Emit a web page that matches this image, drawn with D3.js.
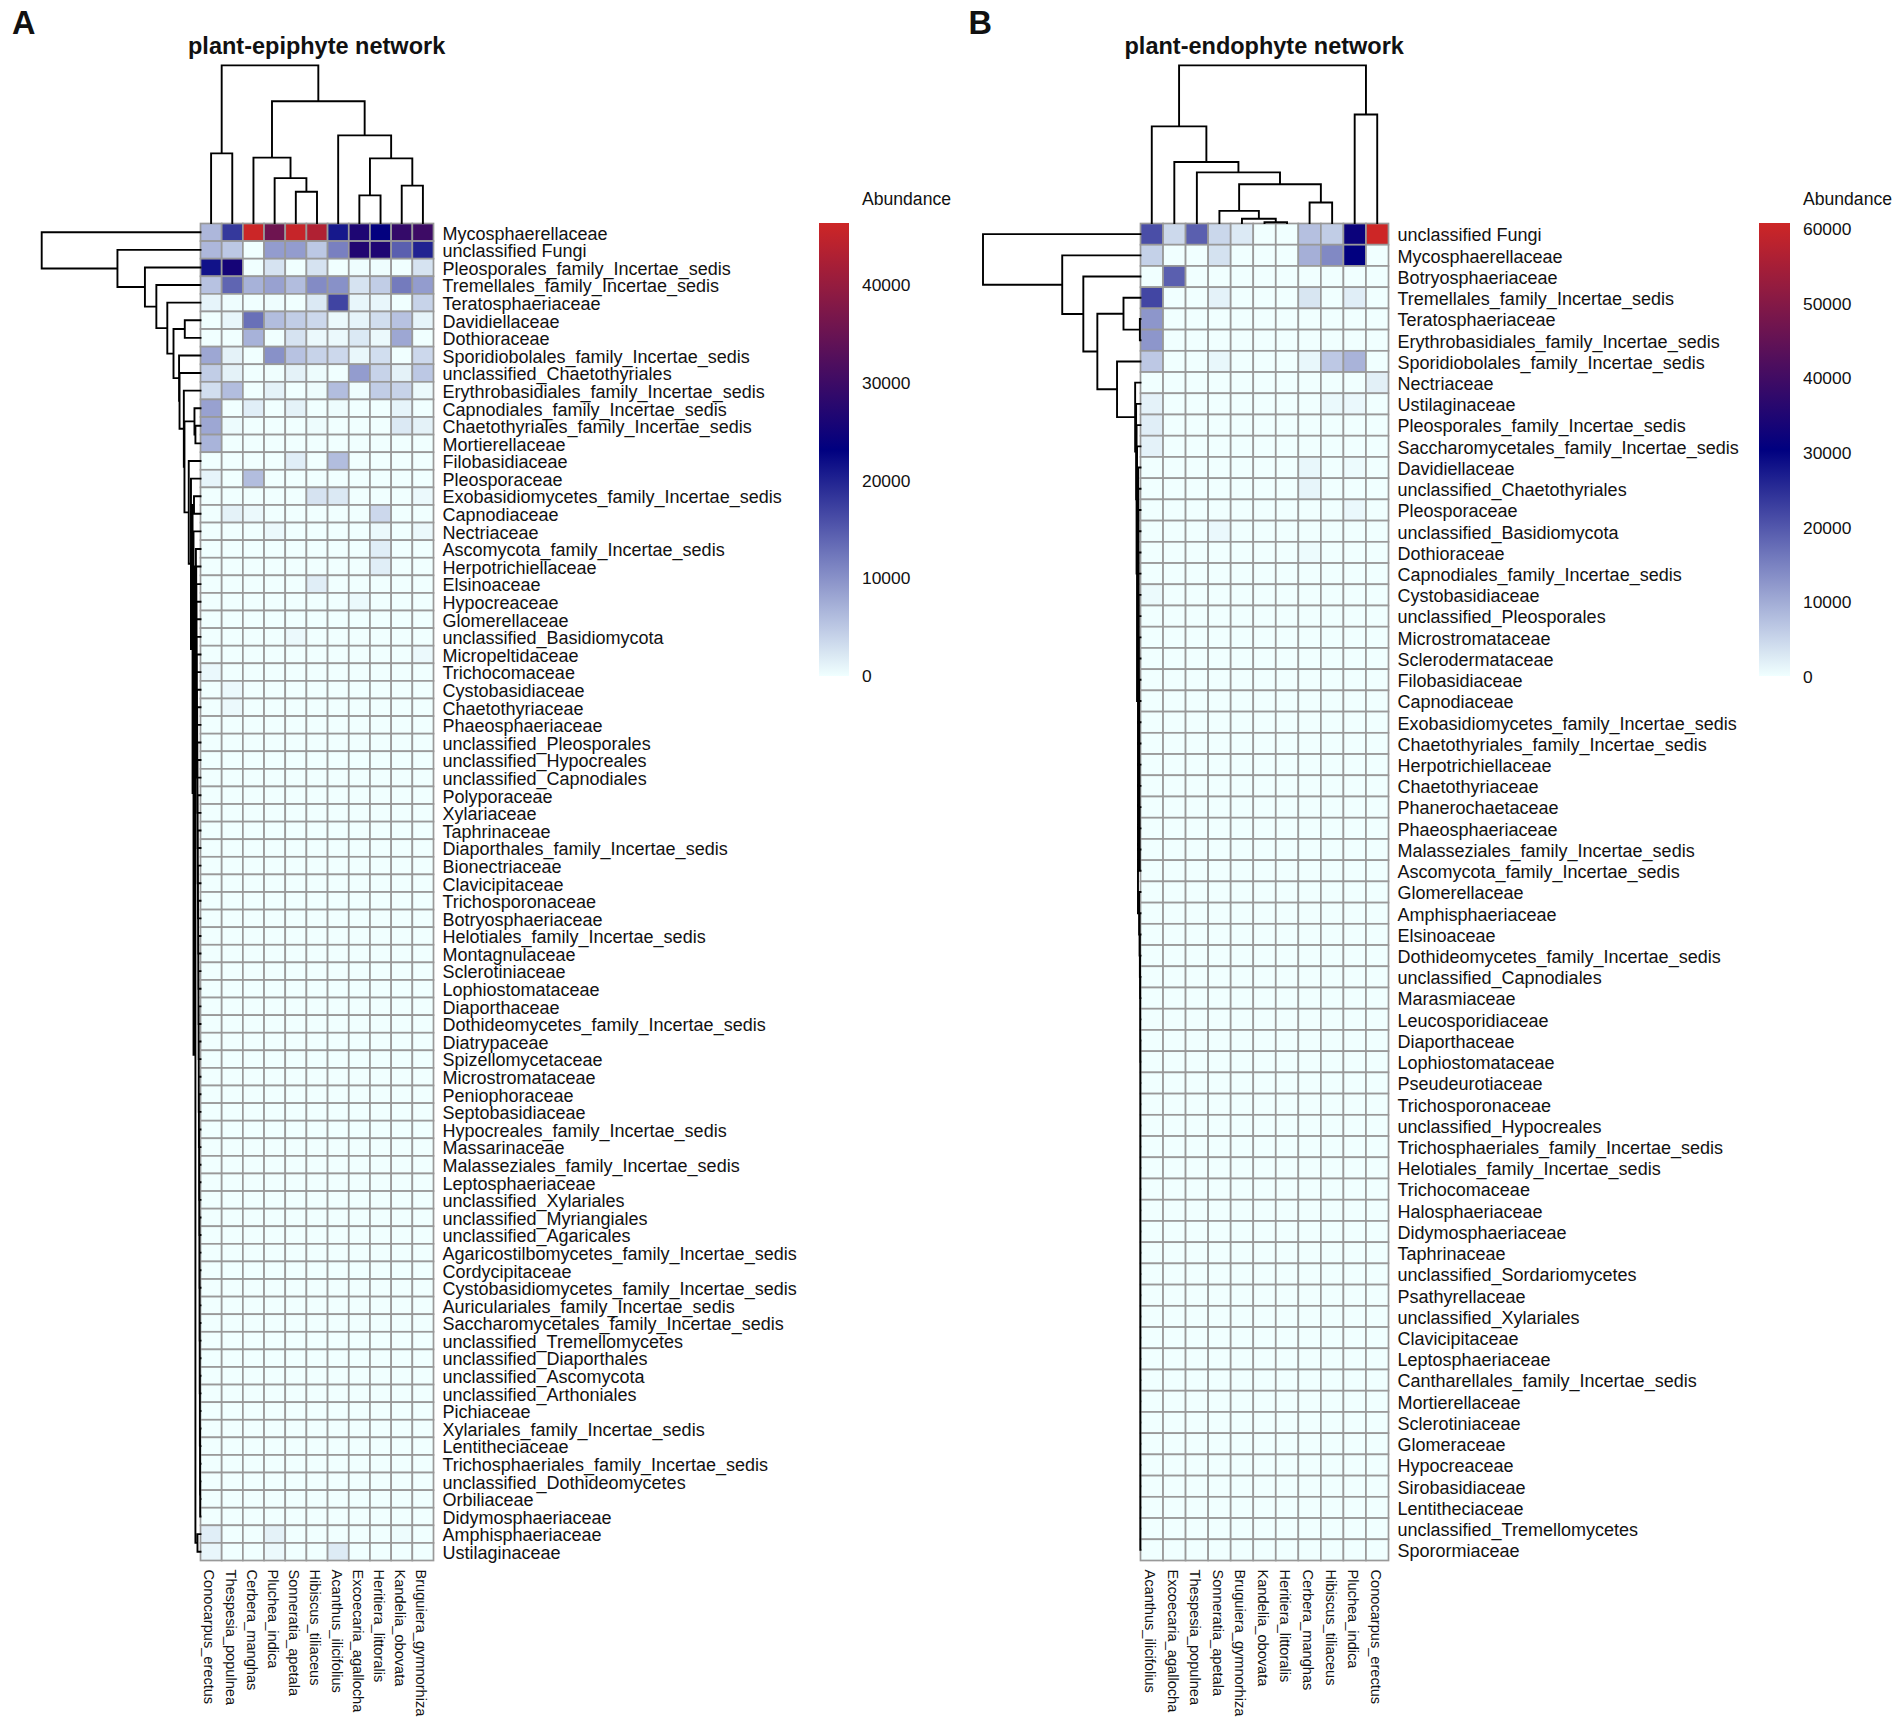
<!DOCTYPE html>
<html>
<head>
<meta charset="utf-8">
<script src="https://cdn.jsdelivr.net/npm/d3@7"></script>
<style>
html,body{margin:0;padding:0;background:#fff}
svg{display:block}
text{font-family:"Liberation Sans",Arial,sans-serif;fill:#111}
</style>
</head>
<body>
<svg id="chart" width="1904" height="1725"></svg>
<script>
const colsA=["Conocarpus_erectus","Thespesia_populnea","Cerbera_manghas","Pluchea_indica","Sonneratia_apetala","Hibiscus_tiliaceus","Acanthus_ilicifolius","Excoecaria_agallocha","Heritiera_littoralis","Kandelia_obovata","Bruguiera_gymnorhiza"];
const rowsA=["Mycosphaerellaceae","unclassified Fungi","Pleosporales_family_Incertae_sedis","Tremellales_family_Incertae_sedis","Teratosphaeriaceae","Davidiellaceae","Dothioraceae","Sporidiobolales_family_Incertae_sedis","unclassified_Chaetothyriales","Erythrobasidiales_family_Incertae_sedis","Capnodiales_family_Incertae_sedis","Chaetothyriales_family_Incertae_sedis","Mortierellaceae","Filobasidiaceae","Pleosporaceae","Exobasidiomycetes_family_Incertae_sedis","Capnodiaceae","Nectriaceae","Ascomycota_family_Incertae_sedis","Herpotrichiellaceae","Elsinoaceae","Hypocreaceae","Glomerellaceae","unclassified_Basidiomycota","Micropeltidaceae","Trichocomaceae","Cystobasidiaceae","Chaetothyriaceae","Phaeosphaeriaceae","unclassified_Pleosporales","unclassified_Hypocreales","unclassified_Capnodiales","Polyporaceae","Xylariaceae","Taphrinaceae","Diaporthales_family_Incertae_sedis","Bionectriaceae","Clavicipitaceae","Trichosporonaceae","Botryosphaeriaceae","Helotiales_family_Incertae_sedis","Montagnulaceae","Sclerotiniaceae","Lophiostomataceae","Diaporthaceae","Dothideomycetes_family_Incertae_sedis","Diatrypaceae","Spizellomycetaceae","Microstromataceae","Peniophoraceae","Septobasidiaceae","Hypocreales_family_Incertae_sedis","Massarinaceae","Malasseziales_family_Incertae_sedis","Leptosphaeriaceae","unclassified_Xylariales","unclassified_Myriangiales","unclassified_Agaricales","Agaricostilbomycetes_family_Incertae_sedis","Cordycipitaceae","Cystobasidiomycetes_family_Incertae_sedis","Auriculariales_family_Incertae_sedis","Saccharomycetales_family_Incertae_sedis","unclassified_Tremellomycetes","unclassified_Diaporthales","unclassified_Ascomycota","unclassified_Arthoniales","Pichiaceae","Xylariales_family_Incertae_sedis","Lentitheciaceae","Trichosphaeriales_family_Incertae_sedis","unclassified_Dothideomycetes","Orbiliaceae","Didymosphaeriaceae","Amphisphaeriaceae","Ustilaginaceae"];
const valuesA=[
[6500,18000,46000,35600,45500,43000,21000,26500,23500,29000,30000],
[6500,5000,0,9000,9000,5000,11500,27000,26500,14500,20000],
[21500,25500,0,2500,0,2500,0,200,200,0,2500],
[5500,14000,7000,8500,6000,10500,10000,2500,4500,12000,9000],
[1000,200,0,200,0,2000,17000,800,800,0,4000],
[0,800,13000,6000,4500,3500,500,1000,3000,5500,1000],
[0,0,7000,0,2500,500,500,2000,500,8000,0],
[8000,1200,0,10000,5500,4000,3500,700,3000,0,3500],
[4500,1200,0,100,1200,300,0,9000,4000,1200,5000],
[3000,6000,0,1200,0,300,6000,200,4500,4000,500],
[8500,0,1500,0,1200,0,300,0,0,1000,0],
[8000,400,0,0,0,300,0,0,0,2000,1200],
[6800,0,0,0,0,0,0,0,0,0,0],
[0,0,0,0,1500,0,6000,0,0,0,0],
[1000,0,6000,0,0,0,0,0,0,0,0],
[0,0,0,0,0,2500,2000,0,0,0,500],
[0,1200,500,0,0,0,0,0,3500,0,0],
[0,0,0,500,0,0,0,0,500,0,500],
[0,0,0,0,0,0,0,0,1500,0,0],
[0,0,0,0,0,0,0,0,1500,0,0],
[0,0,0,0,0,1500,0,0,0,0,0],
[0,0,0,0,0,0,0,500,0,0,0],
[0,0,0,0,0,0,0,0,0,0,0],
[0,0,0,0,500,0,0,0,0,0,0],
[0,0,0,0,0,0,0,0,0,0,500],
[600,0,0,0,0,0,0,0,0,0,0],
[0,500,0,0,0,0,0,0,0,0,0],
[0,500,0,0,0,0,0,0,0,0,0],
[0,0,0,0,0,0,0,0,0,0,0],[0,0,0,0,0,0,0,0,0,0,0],[0,0,0,0,0,0,0,0,0,0,0],[0,0,0,0,0,0,0,0,0,0,0],
[0,0,0,0,0,0,0,0,0,0,0],[0,0,0,0,0,0,0,0,0,0,0],[0,0,0,0,0,0,0,0,0,0,0],[0,0,0,0,0,0,0,0,0,0,0],
[0,0,0,0,0,0,0,0,0,0,0],[0,0,0,0,0,0,0,0,0,0,0],[0,0,0,0,0,0,0,0,0,0,0],[0,0,0,0,0,0,0,0,0,0,0],
[0,0,0,0,0,0,0,0,0,0,0],[0,0,0,0,0,0,0,0,0,0,0],[0,0,0,0,0,0,0,0,0,0,0],[0,0,0,0,0,0,0,0,0,0,0],
[0,0,0,0,0,0,0,0,0,0,0],[0,0,0,0,0,0,0,0,0,0,0],[0,0,0,0,0,0,0,0,0,0,0],[0,0,0,0,0,0,0,0,0,0,0],
[0,0,0,0,0,0,0,0,0,0,0],[0,0,0,0,0,0,0,0,0,0,0],[0,0,0,0,0,0,0,0,0,0,0],[0,0,0,0,0,0,0,0,0,0,0],
[0,0,0,0,0,0,0,0,0,0,0],[0,0,0,0,0,0,0,0,0,0,0],[0,0,0,0,0,0,0,0,0,0,0],[0,0,0,0,0,0,0,0,0,0,0],
[0,0,0,0,0,0,0,0,0,0,0],[0,0,0,0,0,0,0,0,0,0,0],[0,0,0,0,0,0,0,0,0,0,0],[0,0,0,0,0,0,0,0,0,0,0],
[0,0,0,0,0,0,0,0,0,0,0],[0,0,0,0,0,0,0,0,0,0,0],[0,0,0,0,0,0,0,0,0,0,0],[0,0,0,0,0,0,0,0,0,0,0],
[0,0,0,0,0,0,0,0,0,0,0],[0,0,0,0,0,0,0,0,0,0,0],[0,0,0,0,0,0,0,0,0,0,0],[0,0,0,0,0,0,0,0,0,0,0],
[0,0,0,0,0,0,0,0,0,0,0],[0,0,0,0,0,0,0,0,0,0,0],[0,0,0,0,0,0,0,0,0,0,0],[0,0,0,0,0,0,0,0,0,0,0],
[0,0,0,0,0,0,0,0,0,0,0],[0,0,0,0,0,0,0,0,0,0,0],
[1500,0,0,1200,0,0,0,0,0,300,0],
[800,0,0,500,0,0,1800,0,0,0,0]
];
const colsB=["Acanthus_ilicifolius","Excoecaria_agallocha","Thespesia_populnea","Sonneratia_apetala","Bruguiera_gymnorhiza","Kandelia_obovata","Heritiera_littoralis","Cerbera_manghas","Hibiscus_tiliaceus","Pluchea_indica","Conocarpus_erectus"];
const rowsB=["unclassified Fungi","Mycosphaerellaceae","Botryosphaeriaceae","Tremellales_family_Incertae_sedis","Teratosphaeriaceae","Erythrobasidiales_family_Incertae_sedis","Sporidiobolales_family_Incertae_sedis","Nectriaceae","Ustilaginaceae","Pleosporales_family_Incertae_sedis","Saccharomycetales_family_Incertae_sedis","Davidiellaceae","unclassified_Chaetothyriales","Pleosporaceae","unclassified_Basidiomycota","Dothioraceae","Capnodiales_family_Incertae_sedis","Cystobasidiaceae","unclassified_Pleosporales","Microstromataceae","Sclerodermataceae","Filobasidiaceae","Capnodiaceae","Exobasidiomycetes_family_Incertae_sedis","Chaetothyriales_family_Incertae_sedis","Herpotrichiellaceae","Chaetothyriaceae","Phanerochaetaceae","Phaeosphaeriaceae","Malasseziales_family_Incertae_sedis","Ascomycota_family_Incertae_sedis","Glomerellaceae","Amphisphaeriaceae","Elsinoaceae","Dothideomycetes_family_Incertae_sedis","unclassified_Capnodiales","Marasmiaceae","Leucosporidiaceae","Diaporthaceae","Lophiostomataceae","Pseudeurotiaceae","Trichosporonaceae","unclassified_Hypocreales","Trichosphaeriales_family_Incertae_sedis","Helotiales_family_Incertae_sedis","Trichocomaceae","Halosphaeriaceae","Didymosphaeriaceae","Taphrinaceae","unclassified_Sordariomycetes","Psathyrellaceae","unclassified_Xylariales","Clavicipitaceae","Leptosphaeriaceae","Cantharellales_family_Incertae_sedis","Mortierellaceae","Sclerotiniaceae","Glomeraceae","Hypocreaceae","Sirobasidiaceae","Lentitheciaceae","unclassified_Tremellomycetes","Sporormiaceae"];
const valuesB=[
[21000,4500,19000,4800,2500,0,0,7500,6000,32000,60600],
[5500,0,0,3500,0,0,0,9500,14000,30500,0],
[0,19000,0,0,0,0,0,0,0,0,0],
[22000,0,0,1500,0,0,0,3000,0,2000,0],
[12500,0,0,0,0,0,0,0,0,0,0],
[12500,0,0,0,0,0,0,0,0,0,0],
[6500,0,0,1000,0,0,0,1000,6500,9000,0],
[0,0,0,0,0,0,0,0,0,0,1800],
[1500,0,0,0,0,0,0,0,700,800,0],
[2000,0,0,0,0,0,0,0,0,0,0],
[1500,0,0,0,0,0,0,0,0,0,0],
[0,0,0,0,0,0,0,1000,0,500,0],
[0,0,0,0,0,0,0,1200,0,0,0],
[0,0,0,0,0,0,0,0,0,800,0],
[0,0,0,800,0,0,0,0,0,0,0],
[0,0,0,0,0,0,0,500,0,0,0],
[0,0,0,0,0,0,0,0,0,0,0],
[600,0,0,0,0,0,0,0,0,0,0],
[0,0,0,0,0,0,0,0,0,0,0],[0,0,0,0,0,0,0,0,0,0,0],[0,0,0,0,0,0,0,0,0,0,0],[0,0,0,0,0,0,0,0,0,0,0],
[0,0,0,0,0,0,0,0,0,0,0],[0,0,0,0,0,0,0,0,0,0,0],[0,0,0,0,0,0,0,0,0,0,0],[0,0,0,0,0,0,0,0,0,0,0],
[0,0,0,0,0,0,0,0,0,0,0],[0,0,0,0,0,0,0,0,0,0,0],[0,0,0,0,0,0,0,0,0,0,0],[0,0,0,0,0,0,0,0,0,0,0],
[0,0,0,0,0,0,0,0,0,0,0],[0,0,0,0,0,0,0,0,0,0,0],[0,0,0,0,0,0,0,0,0,0,0],[0,0,0,0,0,0,0,0,0,0,0],
[0,0,0,0,0,0,0,0,0,0,0],[0,0,0,0,0,0,0,0,0,0,0],[0,0,0,0,0,0,0,0,0,0,0],[0,0,0,0,0,0,0,0,0,0,0],
[0,0,0,0,0,0,0,0,0,0,0],[0,0,0,0,0,0,0,0,0,0,0],[0,0,0,0,0,0,0,0,0,0,0],[0,0,0,0,0,0,0,0,0,0,0],
[0,0,0,0,0,0,0,0,0,0,0],[0,0,0,0,0,0,0,0,0,0,0],[0,0,0,0,0,0,0,0,0,0,0],[0,0,0,0,0,0,0,0,0,0,0],
[0,0,0,0,0,0,0,0,0,0,0],[0,0,0,0,0,0,0,0,0,0,0],[0,0,0,0,0,0,0,0,0,0,0],[0,0,0,0,0,0,0,0,0,0,0],
[0,0,0,0,0,0,0,0,0,0,0],[0,0,0,0,0,0,0,0,0,0,0],[0,0,0,0,0,0,0,0,0,0,0],[0,0,0,0,0,0,0,0,0,0,0],
[0,0,0,0,0,0,0,0,0,0,0],[0,0,0,0,0,0,0,0,0,0,0],[0,0,0,0,0,0,0,0,0,0,0],[0,0,0,0,0,0,0,0,0,0,0],
[0,0,0,0,0,0,0,0,0,0,0],[0,0,0,0,0,0,0,0,0,0,0],[0,0,0,0,0,0,0,0,0,0,0],[0,0,0,0,0,0,0,0,0,0,0],
[0,0,0,0,0,0,0,0,0,0,0]
];
const ticksA=[0,10000,20000,30000,40000];
const ticksB=[0,10000,20000,30000,40000,50000,60000];
const maxA=46270, maxB=60640;
const rampColors=["#F0FFFF","#000080","#CD2626"];

// merge trees: [height, childA, childB]; a plain number is a leaf index
const colTreeA=[100,[44.2,0,1],[77.3,[41.5,2,[28.5,3,[19.8,4,5]]],[55.6,6,[41,[17.5,7,8],[23.7,9,10]]]]];
const colTreeB=[100,[61.3,0,[38.7,1,[32.1,2,[24.6,[7.7,3,[2.7,4,[0.5,5,6]]],[13,7,8]]]]],[68.8,9,10]];
const chainHeightsA=[2.9,2.7,2.6,2.5,2.5,2.4,2.3,2.3,2.2,2.1,2.1,2.0,1.9,1.9,1.8,1.8,1.7,1.7,1.6,1.6,1.5,1.5,1.4,1.4,1.3,1.3,1.2,1.2,1.1,1.1,1.1,1.0,1.0,0.9,0.9,0.9,0.8,0.8,0.7,0.7,0.7,0.6,0.6,0.6,0.5,0.5,0.5,0.4,0.4,0.4,0.3,0.3,0.3,0.2,0.2];
const chainHeightsB1=[1.5,1.4,1.3,1.3,1.2,1.2,1.1,1.1,1.0,1.0,0.9,0.9,0.8,0.8,0.7,0.7,0.6,0.6,0.5];
const chainHeightsB2=[0.9,0.6,0.4,0.3,0.2,0.2,0.2,0.1,0.1,0.1,0.1,0.1,0.1,0.1,0.1,0.1,0.1,0.1,0.1,0.1,0.1,0.1,0.1,0.1,0.1,0.1,0.1,0.1,0.1,0.1,0.1];

function chain(first,heights){
  let node=first+heights.length;
  for(let i=heights.length-1;i>=0;i--) node=[heights[i],first+i,node];
  return node;
}
const tailA=[3.2,chain(18,chainHeightsA),[1.9,74,75]];
const rowTreeA=[100,0,[52.3,1,[35,2,[27.8,3,[20.9,4,[17,[9.9,5,6],[13.5,7,[13.2,8,[10.5,9,[10.1,[3.8,10,[3.2,11,12]],[7.4,13,[6,14,[5,[4.1,15,16],[4.4,17,tailA]]]]]]]]]]]]]];
const tailB=[1.6,chain(11,chainHeightsB1),chain(31,chainHeightsB2)];
const rowTreeB=[100,0,[49.7,1,[36.3,2,[27.4,[10.8,3,[0.4,4,5]],[14.9,6,[3.4,7,[2.8,8,[2.5,9,[2.2,10,tailB]]]]]]]]];

const svg=d3.select("#chart");
svg.append("rect").attr("width",1904).attr("height",1725).attr("fill","#fff");

function dendro(g,tree,posOf,hScale,horizontal){
  const path=d3.path();
  const seg=(p0,h0,p1,h1)=>{
    if(horizontal){path.moveTo(hScale(h0),p0);path.lineTo(hScale(h1),p1);}
    else{path.moveTo(p0,hScale(h0));path.lineTo(p1,hScale(h1));}
  };
  (function walk(n){
    if(typeof n==="number") return {p:posOf(n),h:0};
    const a=walk(n[1]), b=walk(n[2]), h=n[0];
    seg(a.p,a.h,a.p,h); seg(b.p,b.h,b.p,h); seg(a.p,h,b.p,h);
    return {p:(a.p+b.p)/2,h};
  })(tree);
  g.append("path").attr("d",path.toString()).attr("fill","none").attr("stroke","#000").attr("stroke-width",1.9).attr("stroke-linecap","square");
}

function panel(o){
  const g=svg.append("g");
  const x=d3.scaleBand().domain(o.cols).range([o.left,o.right]);
  const y=d3.scaleBand().domain(o.rows).range([o.top,o.bottom]);
  const color=d3.scaleLinear().domain([0,o.max/2,o.max]).range(rampColors).interpolate(d3.interpolateRgb);
  const cells=o.values.flatMap((r,i)=>r.map((v,j)=>({r:o.rows[i],c:o.cols[j],v})));
  g.append("g").selectAll("rect").data(cells).join("rect")
    .attr("x",d=>x(d.c)).attr("y",d=>y(d.r)).attr("width",x.bandwidth()).attr("height",y.bandwidth())
    .attr("fill",d=>color(d.v)).attr("stroke","#999").attr("stroke-width",1.7);
  g.append("g").selectAll("text").data(o.rows).join("text")
    .attr("x",o.right+9).attr("y",d=>y(d)+y.bandwidth()/2+7.3)
    .attr("font-size",18).text(d=>d);
  g.append("g").selectAll("text").data(o.cols).join("text")
    .attr("transform",d=>`translate(${x(d)+x.bandwidth()/2},${o.bottom+9}) rotate(90)`)
    .attr("y",6.6).attr("font-size",14.6).text(d=>d);
  dendro(g,o.colTree,i=>x(o.cols[i])+x.bandwidth()/2,d3.scaleLinear().domain([0,100]).range([o.top-0.5,65.4]),false);
  dendro(g,o.rowTree,i=>y(o.rows[i])+y.bandwidth()/2,d3.scaleLinear().domain([0,100]).range([o.left,o.dendroLeft]),true);
  g.append("text").attr("x",o.titleX).attr("y",53.5).attr("font-size",23.5).attr("font-weight","bold").attr("fill","#000").text(o.title);
  g.append("text").attr("x",o.letterX).attr("y",34).attr("font-size",32.5).attr("font-weight","bold").attr("fill","#000").text(o.letter);
  // legend
  const ly=d3.scaleLinear().domain([0,o.max]).range([676,223]);
  const gid="grad"+o.letter;
  const grad=svg.append("defs").append("linearGradient").attr("id",gid).attr("x1",0).attr("x2",0).attr("y1",1).attr("y2",0);
  d3.range(0,1.0001,0.05).forEach(t=>grad.append("stop").attr("offset",t).attr("stop-color",color(t*o.max)));
  g.append("rect").attr("x",o.legendX).attr("y",ly(o.max)).attr("width",o.legendW).attr("height",ly(0)-ly(o.max)).attr("fill",`url(#${gid})`);
  g.append("text").attr("x",o.legendText).attr("y",205).attr("font-size",17.6).text("Abundance");
  g.append("g").selectAll("text").data(o.ticks).join("text")
    .attr("x",o.legendText).attr("y",d=>ly(d)+o.tickShift).attr("font-size",17.4).text(d=>d);
}

panel({letter:"A",title:"plant-epiphyte network",titleX:188,letterX:12,cols:colsA,rows:rowsA,values:valuesA,max:maxA,ticks:ticksA,colTree:colTreeA,rowTree:rowTreeA,left:200.5,right:433.5,top:223.5,bottom:1560.5,dendroLeft:41.7,legendX:819,legendW:30,legendText:862,tickShift:6.4});
panel({letter:"B",title:"plant-endophyte network",titleX:1124.5,letterX:968.5,cols:colsB,rows:rowsB,values:valuesB,max:maxB,ticks:ticksB,colTree:colTreeB,rowTree:rowTreeB,left:1140.5,right:1388.5,top:223.5,bottom:1560.5,dendroLeft:983,legendX:1759,legendW:31,legendText:1803,tickShift:7.2});
</script>
</body>
</html>
